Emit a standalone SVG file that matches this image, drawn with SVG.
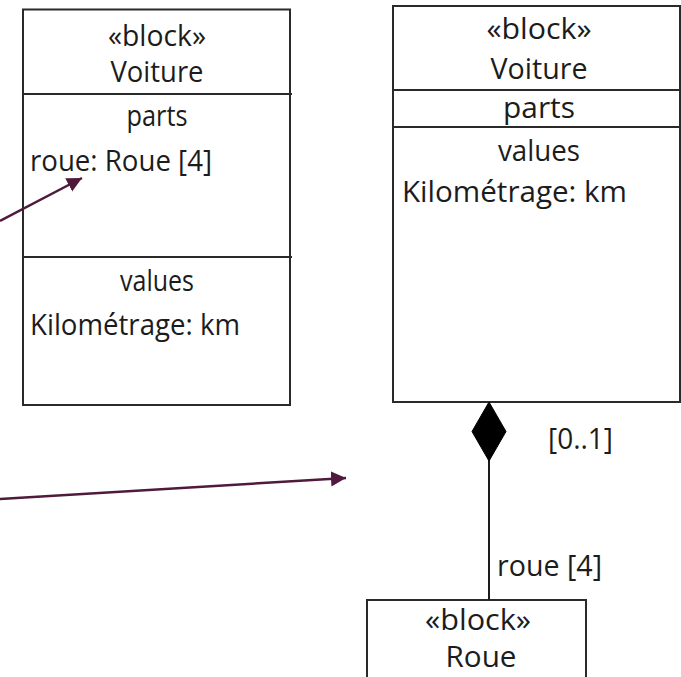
<svg xmlns="http://www.w3.org/2000/svg" width="681" height="677" viewBox="0 0 681 677">
<defs>
<style>
.box{fill:#fff;stroke:#2a2a2a;stroke-width:2}
.div{stroke:#2a2a2a;stroke-width:2}
.t{font-family:"Open Sans","Noto Sans",sans-serif;font-size:29px;fill:#1c1c1c}
.c{text-anchor:middle}
.arr{stroke:#4f1a3c;stroke-width:2.5;fill:none}
.assoc{stroke:#1c1c1c;stroke-width:2;fill:none}
</style>
<marker id="ah" markerUnits="userSpaceOnUse" markerWidth="16" markerHeight="16" refX="15" refY="7.5" orient="auto" viewBox="0 0 16 15">
<path d="M0,0 L15,7.5 L0,15 z" fill="#4f1a3c"/>
</marker>
</defs>
<rect width="681" height="677" fill="#fff"/>
<g id="voiture-left">
<rect class="box" x="23" y="9.5" width="267" height="395.5"/>
<line class="div" x1="23" y1="94" x2="292" y2="94"/>
<line class="div" x1="23" y1="257" x2="292" y2="257"/>
<text class="t c" x="157" y="46" textLength="98" lengthAdjust="spacingAndGlyphs">«block»</text>
<text class="t c" x="157" y="82" textLength="93" lengthAdjust="spacingAndGlyphs">Voiture</text>
<text class="t c" x="157" y="126" textLength="61" lengthAdjust="spacingAndGlyphs">parts</text>
<text class="t" x="30" y="171" textLength="182" lengthAdjust="spacingAndGlyphs">roue: Roue [4]</text>
<text class="t c" x="157" y="291" textLength="74" lengthAdjust="spacingAndGlyphs">values</text>
<text class="t" x="30" y="335" textLength="210" lengthAdjust="spacingAndGlyphs">Kilométrage: km</text>
</g>
<g id="voiture-right">
<rect class="box" x="393" y="6" width="287" height="396"/>
<line class="div" x1="393" y1="90" x2="680" y2="90"/>
<line class="div" x1="393" y1="127" x2="680" y2="127"/>
<text class="t c" x="539" y="39" textLength="105" lengthAdjust="spacingAndGlyphs">«block»</text>
<text class="t c" x="539" y="79" textLength="97" lengthAdjust="spacingAndGlyphs">Voiture</text>
<text class="t c" x="539" y="118" textLength="72" lengthAdjust="spacingAndGlyphs">parts</text>
<text class="t c" x="539" y="161" textLength="82" lengthAdjust="spacingAndGlyphs">values</text>
<text class="t" x="402" y="202" textLength="225" lengthAdjust="spacingAndGlyphs">Kilométrage: km</text>
</g>
<g id="roue">
<rect class="box" x="367" y="600" width="219" height="90"/>
<text class="t c" x="478" y="630" textLength="106" lengthAdjust="spacingAndGlyphs">«block»</text>
<text class="t c" x="481" y="667" textLength="71" lengthAdjust="spacingAndGlyphs">Roue</text>
</g>
<g id="connectors">
<line class="assoc" x1="489" y1="460" x2="489" y2="600"/>
<path d="M489,402 L506,431.5 L489,461 L472,431.5 z" fill="#000" stroke="#000" stroke-width="1"/>
<text class="t" x="548" y="449" textLength="65" lengthAdjust="spacingAndGlyphs">[0..1]</text>
<text class="t" x="497" y="576" textLength="105" lengthAdjust="spacingAndGlyphs">roue [4]</text>
<line class="arr" x1="0" y1="221" x2="82" y2="178" marker-end="url(#ah)"/>
<line class="arr" x1="0" y1="499" x2="346" y2="478" marker-end="url(#ah)"/>
</g>
</svg>
